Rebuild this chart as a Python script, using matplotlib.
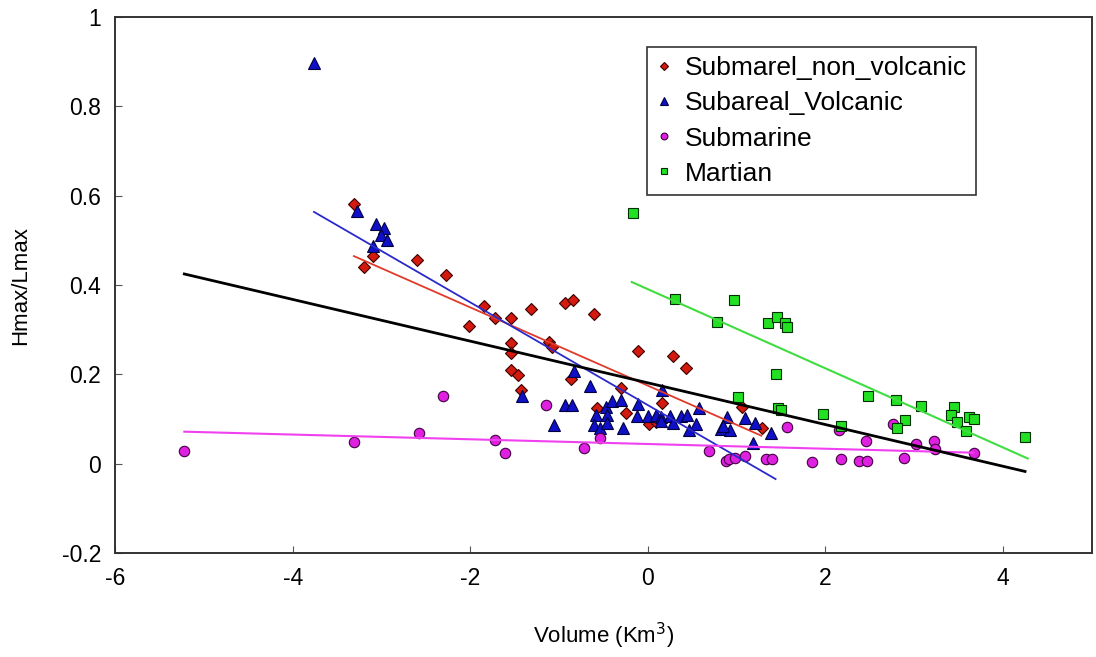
import matplotlib
matplotlib.use("Agg")
import matplotlib.pyplot as plt

plt.rcParams['font.family'] = ['Liberation Sans', 'DejaVu Sans']

# Submarel_non_volcanic (red diamonds)
snv_x = [-3.31, -3.2, -3.1, -2.6, -2.27, -2.01, -1.84, -1.72, -1.54, -1.31, -0.93, -0.84,
         -0.61, -1.54, -1.54, -1.11, -1.08, -1.54, -1.46, -1.43, -0.87, -0.30, -0.11, 0.28,
         0.43, 0.16, -0.57, -0.24, 0.01, 0.09, 1.06, 1.29]
snv_y = [0.582, 0.44, 0.465, 0.456, 0.423, 0.309, 0.353, 0.327, 0.327, 0.347, 0.36, 0.367,
         0.336, 0.27, 0.248, 0.273, 0.262, 0.21, 0.199, 0.166, 0.19, 0.17, 0.253, 0.242,
         0.215, 0.137, 0.125, 0.114, 0.09, 0.094, 0.128, 0.08]

# Subareal_Volcanic (blue triangles)
sv_x = [-3.76, -3.27, -3.06, -2.97, -3.01, -2.94, -3.1, -1.42, -1.06, -0.93, -0.85, -0.83,
        -0.65, -0.58, -0.61, -0.54, -0.47, -0.46, -0.46, -0.4, -0.3, -0.28, -0.11, -0.12,
        0.0, 0.09, 0.16, 0.15, 0.25, 0.29, 0.38, 0.44, 0.46, 0.54, 0.58, 0.83, 0.89, 0.93,
        1.09, 1.21, 1.19, 1.39, 0.15, 0.85]
sv_y = [0.897, 0.566, 0.537, 0.528, 0.512, 0.501, 0.488, 0.152, 0.087, 0.132, 0.132, 0.208,
        0.175, 0.11, 0.087, 0.08, 0.128, 0.11, 0.092, 0.141, 0.143, 0.081, 0.134, 0.107,
        0.107, 0.11, 0.166, 0.105, 0.107, 0.092, 0.107, 0.11, 0.076, 0.09, 0.125, 0.078,
        0.105, 0.076, 0.103, 0.092, 0.047, 0.069, 0.095, 0.085]

# Submarine (magenta circles)
sm_x = [-5.22, -3.31, -2.58, -2.31, -1.72, -1.61, -1.15, -0.72, -0.54, 0.69, 0.88, 0.91,
        0.98, 1.1, 1.33, 1.4, 1.57, 1.85, 2.18, 2.16, 2.46, 2.38, 2.47, 2.76, 2.89, 3.02,
        3.22, 3.24, 3.67]
sm_y = [0.029, 0.049, 0.069, 0.152, 0.054, 0.025, 0.132, 0.036, 0.058, 0.029, 0.007, 0.011,
        0.013, 0.018, 0.011, 0.011, 0.083, 0.004, 0.011, 0.076, 0.051, 0.007, 0.007, 0.089,
        0.013, 0.045, 0.051, 0.034, 0.025]

# Martian (green squares)
ma_x = [-0.17, 0.31, 0.97, 0.78, 1.35, 1.46, 1.55, 1.57, 1.45, 1.02, 1.47, 1.5, 1.97, 2.18,
        2.48, 2.8, 3.08, 2.9, 2.81, 3.45, 3.42, 3.48, 3.62, 3.67, 3.58, 4.25]
ma_y = [0.562, 0.369, 0.367, 0.318, 0.315, 0.329, 0.315, 0.307, 0.201, 0.15, 0.125, 0.12,
        0.112, 0.085, 0.152, 0.143, 0.13, 0.098, 0.081, 0.128, 0.11, 0.094, 0.105, 0.101,
        0.074, 0.06]

# trend lines (end points)
all_fit_x = [-5.22, 4.25]
all_fit_y = [0.425, -0.017]
snv_fit_x = [-3.31, 1.28]
snv_fit_y = [0.465, 0.063]
sv_fit_x = [-3.76, 1.44]
sv_fit_y = [0.564, -0.034]
sm_fit_x = [-5.22, 3.67]
sm_fit_y = [0.072, 0.025]
ma_fit_x = [-0.18, 4.28]
ma_fit_y = [0.407, 0.012]

fig = plt.figure(figsize=(10.96, 6.57), dpi=100)
ax = fig.add_axes([0.105, 0.158, 0.891, 0.816])

h1, = ax.plot(snv_x, snv_y, 'D', ms=6.5, mfc='#D41A0E', mec='#3a0000', mew=0.8,
              ls='none', label='Submarel_non_volcanic')
h2, = ax.plot(sv_x, sv_y, '^', ms=8.5, mfc='#1010C8', mec='#000040', mew=0.8,
              ls='none', label='Subareal_Volcanic')
h3, = ax.plot(sm_x, sm_y, 'o', ms=7.5, mfc='#E020E0', mec='#400040', mew=0.8,
              ls='none', label='Submarine')
h4, = ax.plot(ma_x, ma_y, 's', ms=7.5, mfc='#22E022', mec='#003000', mew=0.8,
              ls='none', label='Martian')

ax.plot(snv_fit_x, snv_fit_y, color='#E03A2A', lw=1.3)
ax.plot(sv_fit_x, sv_fit_y, color='#2A2ACC', lw=1.3)
ax.plot(sm_fit_x, sm_fit_y, color='#F040F0', lw=1.5)
ax.plot(ma_fit_x, ma_fit_y, color='#40DD40', lw=1.5)
ax.plot(all_fit_x, all_fit_y, color='black', lw=2.0)

ax.set_xlim(-6, 5)
ax.set_ylim(-0.2, 1.0)
ax.set_xticks([-6, -4, -2, 0, 2, 4])
ax.set_yticks([-0.2, 0, 0.2, 0.4, 0.6, 0.8, 1])
ax.set_yticklabels(['-0.2', '0', '0.2', '0.4', '0.6', '0.8', '1'])
ax.set_xticklabels(['-6', '-4', '-2', '0', '2', '4'])
ax.tick_params(direction='in', length=5, labelsize=16.5, color='#555555', pad=10)
for s in ax.spines.values():
    s.set_color('#333333')
    s.set_linewidth(1.4)

ax.set_xlabel('Volume (Km$^3$)', fontsize=16, labelpad=22)
ax.set_ylabel('Hmax/Lmax', fontsize=16, labelpad=22)

leg = ax.legend(handles=[h1, h2, h3, h4], loc='upper right', bbox_to_anchor=(0.882, 0.944),
                fontsize=19, markerscale=0.65, handlelength=0.6, handletextpad=0.5,
                labelspacing=0.42, borderpad=0.35, frameon=True, fancybox=False,
                borderaxespad=0)
leg.get_frame().set_edgecolor('black')
leg.get_frame().set_linewidth(1.2)

fig.savefig('out.png', dpi=100)
